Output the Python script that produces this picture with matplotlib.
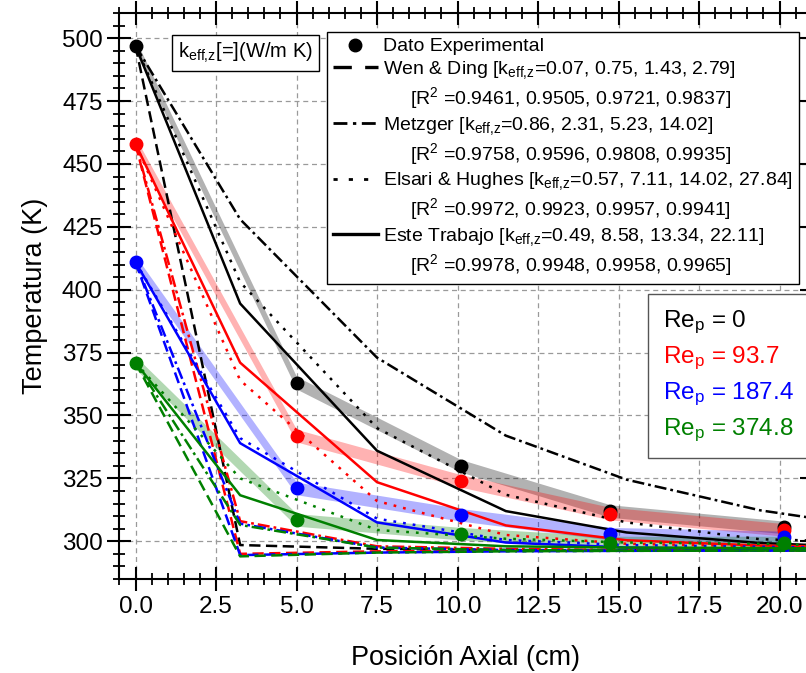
import numpy as np
import matplotlib
matplotlib.use("Agg")
import matplotlib.pyplot as plt
from matplotlib.lines import Line2D
from matplotlib.ticker import MultipleLocator, FormatStrFormatter

plt.rcParams['font.family'] = ['Liberation Sans', 'DejaVu Sans']
plt.rcParams['mathtext.fontset'] = 'custom'
plt.rcParams['mathtext.rm'] = 'Liberation Sans'
plt.rcParams['mathtext.it'] = 'Liberation Sans:italic'
plt.rcParams['mathtext.bf'] = 'Liberation Sans:bold'

# experimental points
z_exp = [0.0, 5.0, 10.1, 14.75, 20.15]
exp_re0 = [497, 363, 330, 312, 305.5]
exp_re94 = [458, 342, 324, 311, 304.5]
exp_re187 = [411, 321, 310.5, 303, 301.5]
exp_re375 = [371, 308.5, 303, 299.5, 299.5]

# model nodes
z_mod = [0.0, 3.25, 7.5, 11.5, 15.25, 19.4, 21.0]
wen_re0 = [497, 298.5, 297, 296.5, 296.5, 296.5, 296.5]
wen_re94 = [458, 295, 296, 296.3, 296.5, 296.5, 296.5]
wen_re187 = [411, 294.5, 295.5, 296, 296.2, 296.3, 296.3]
wen_re375 = [371, 294, 295.5, 296, 296.2, 296.3, 296.3]

metz_re0 = [497, 428, 373, 342, 324.5, 312.3, 309.3]
metz_re94 = [458, 308, 298, 297, 296.5, 296.5, 296.5]
metz_re187 = [411, 307, 297.5, 296.5, 296.3, 296.3, 296.3]
metz_re375 = [371, 306.5, 297.5, 296.5, 296.3, 296.3, 296.3]

els_re0 = [497, 403, 345, 318.5, 307.5, 300.8, 300.3]
els_re94 = [458, 364, 316, 302.5, 299, 298, 297.8]
els_re187 = [411, 341, 309, 300.5, 298.5, 297.8, 297.5]
els_re375 = [371, 325, 304.5, 301, 299.5, 299, 298.5]

este_re0 = [497, 394.5, 336, 312, 303.5, 299.3, 298.5]
este_re94 = [458, 371, 323.5, 306.3, 300.4, 298.3, 298]
este_re187 = [411, 339, 307.5, 299.5, 297.5, 297, 297]
este_re375 = [371, 318.3, 300.5, 298, 297.5, 297.3, 297.2]

colors = ['black', 'red', 'blue', '#008000']
re_labels = ['0', '93.7', '187.4', '374.8']
exp_all = [exp_re0, exp_re94, exp_re187, exp_re375]
wen_all = [wen_re0, wen_re94, wen_re187, wen_re375]
metz_all = [metz_re0, metz_re94, metz_re187, metz_re375]
els_all = [els_re0, els_re94, els_re187, els_re375]
este_all = [este_re0, este_re94, este_re187, este_re375]

band = 2.5
ls_dash = (0, (4.5, 2.2))
ls_dot = (0, (1.1, 2.8))
ls_dashdot = (0, (4.8, 1.6, 1.1, 1.6))

fig = plt.figure(figsize=(8.06, 6.73), dpi=100)
ax = fig.add_axes([119.4/806, 1-579/673, (811.7-119.4)/806, (579-13)/673])

# bands around experimental data
for c, t in zip(colors, exp_all):
    t = np.array(t)
    ax.fill_between(z_exp, t - band, t + band, color=c, alpha=0.3, lw=0, zorder=1)

lw = 1.8
for i, c in enumerate(colors):
    ax.plot(z_mod, wen_all[i], color=c, lw=lw, linestyle=ls_dash, zorder=3)
    ax.plot(z_mod, metz_all[i], color=c, lw=lw, linestyle=ls_dashdot, zorder=3)
    ax.plot(z_mod, els_all[i], color=c, lw=lw, linestyle=ls_dot, zorder=3)
    ax.plot(z_mod, este_all[i], color=c, lw=lw, linestyle='-', zorder=3)

for c, t in zip(colors, exp_all):
    ax.plot(z_exp, t, 'o', color=c, markersize=9, zorder=5)

ax.set_xlim(-0.5, 21.0)
ax.set_ylim(285, 510)
ax.xaxis.set_major_locator(MultipleLocator(2.5))
ax.xaxis.set_minor_locator(MultipleLocator(0.5))
ax.xaxis.set_major_formatter(FormatStrFormatter('%.1f'))
ax.yaxis.set_major_locator(MultipleLocator(25))
ax.yaxis.set_minor_locator(MultipleLocator(5))
ax.tick_params(which='major', direction='inout', length=17, width=1.5,
               top=True, right=True, labelsize=17.5)
ax.tick_params(which='minor', direction='inout', length=9, width=1.3,
               top=True, right=True)
for s in ax.spines.values():
    s.set_linewidth(1.5)
ax.grid(True, which='major', linestyle=(0, (4, 3)), color='#9a9a9a', linewidth=0.9)
ax.set_axisbelow(True)

ax.set_xlabel('Posición Axial (cm)', fontsize=19.5, labelpad=20)
ax.set_ylabel('Temperatura (K)', fontsize=19.5, labelpad=10)

# legend
keff = r'k$_{\mathrm{eff{,}z}}$'
handles = [
    Line2D([], [], color='black', marker='o', linestyle='none', markersize=9),
    Line2D([], [], color='black', lw=2.4, linestyle=(0, (5.5, 4))),
    Line2D([], [], linestyle='none'),
    Line2D([], [], color='black', lw=2.0, linestyle=(0, (5, 2, 1.2, 2))),
    Line2D([], [], linestyle='none'),
    Line2D([], [], color='black', lw=2.0, linestyle=(0, (1.5, 4))),
    Line2D([], [], linestyle='none'),
    Line2D([], [], color='black', lw=2.4, linestyle='-'),
    Line2D([], [], linestyle='none'),
]
labels = [
    'Dato Experimental',
    'Wen & Ding [' + keff + '=0.07, 0.75, 1.43, 2.79]',
    '     [R$^{2}$ =0.9461, 0.9505, 0.9721, 0.9837]',
    'Metzger [' + keff + '=0.86, 2.31, 5.23, 14.02]',
    '     [R$^{2}$ =0.9758, 0.9596, 0.9808, 0.9935]',
    'Elsari & Hughes [' + keff + '=0.57, 7.11, 14.02, 27.84]',
    '     [R$^{2}$ =0.9972, 0.9923, 0.9957, 0.9941]',
    'Este Trabajo [' + keff + '=0.49, 8.58, 13.34, 22.11]',
    '     [R$^{2}$ =0.9978, 0.9948, 0.9958, 0.9965]',
]
leg = ax.legend(handles, labels, loc='upper left',
                bbox_to_anchor=(327/806, 1-32/673), bbox_transform=fig.transFigure,
                borderaxespad=0, fontsize=14, handlelength=2.3, handletextpad=0.3,
                labelspacing=0.2, borderpad=0.3, fancybox=False, framealpha=1,
                edgecolor='black')
leg.get_frame().set_linewidth(1.0)

re_handles = [Line2D([], [], linestyle='none') for _ in re_labels]
re_text = ['Re$_{\\mathrm{p}}$ = ' + r for r in re_labels]
fig.legend(re_handles, re_text, loc='upper left',
           bbox_to_anchor=(648/806, 1-294/673), bbox_transform=fig.transFigure,
           borderaxespad=0, fontsize=17.5, handlelength=0, handletextpad=0,
           labelspacing=0.35, borderpad=0.6, fancybox=False, framealpha=1,
           edgecolor='#555555', labelcolor=colors)

fig.text(178/806, 1-53/673, keff + '[=](W/m K)', fontsize=14.5, ha='left', va='center',
         bbox=dict(boxstyle='square,pad=0.3', facecolor='white', edgecolor='black', lw=1.0))

fig.savefig('out.png', dpi=100)
